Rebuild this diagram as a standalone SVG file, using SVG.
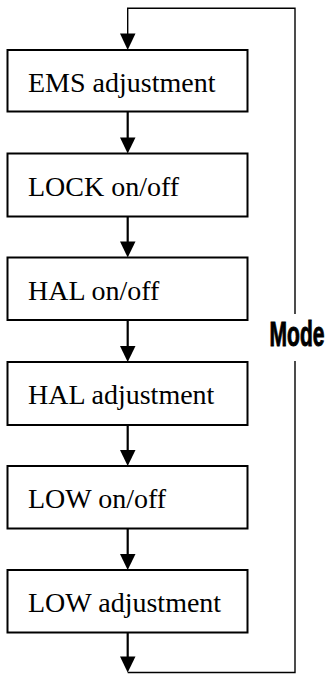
<svg xmlns="http://www.w3.org/2000/svg" width="329" height="674" viewBox="0 0 329 674">
<style>
.box{fill:#fff;stroke:#000;stroke-width:2}
.lbl{font-family:"Liberation Serif","Times New Roman",serif;font-size:28px;fill:#000}
.con{fill:none;stroke:#000;stroke-width:2.2}
.loop{fill:none;stroke:#000;stroke-width:1.4}
.head{fill:#000}
.mode{font-family:"Liberation Sans",Arial,sans-serif;font-weight:bold;font-size:36px;fill:#000;stroke:#000;stroke-width:1}
</style>
<rect width="329" height="674" fill="#fff"/>
<g id="connectors">
<path class="loop" d="M127.7,672.5 H295 V361 M295,314 V8.3 H127.7 V36"/>
<line class="con" x1="127.7" y1="111.5" x2="127.7" y2="140"/>
<line class="con" x1="127.7" y1="216.5" x2="127.7" y2="244"/>
<line class="con" x1="127.7" y1="320" x2="127.7" y2="348"/>
<line class="con" x1="127.7" y1="425" x2="127.7" y2="452"/>
<line class="con" x1="127.7" y1="528.5" x2="127.7" y2="556"/>
<line class="con" x1="127.7" y1="632.5" x2="127.7" y2="659"/>
<polygon class="head" points="120,33.5 135.5,33.5 127.7,50"/>
<polygon class="head" points="120,137.5 135.5,137.5 127.7,153.5"/>
<polygon class="head" points="120,241.5 135.5,241.5 127.7,257.5"/>
<polygon class="head" points="120,346 135.5,346 127.7,362"/>
<polygon class="head" points="120,450 135.5,450 127.7,466"/>
<polygon class="head" points="120,554 135.5,554 127.7,570"/>
<polygon class="head" points="120,656.5 135.5,656.5 127.7,672.5"/>
</g>
<g id="n1"><rect class="box" x="7.5" y="50" width="240" height="61.5"/><text class="lbl" x="28" y="92">EMS adjustment</text></g>
<g id="n2"><rect class="box" x="7.5" y="153.5" width="240" height="63"/><text class="lbl" x="28" y="196">LOCK on/off</text></g>
<g id="n3"><rect class="box" x="7.5" y="257.5" width="240" height="62.5"/><text class="lbl" x="28" y="300">HAL on/off</text></g>
<g id="n4"><rect class="box" x="7.5" y="362" width="240" height="63"/><text class="lbl" x="28" y="404">HAL adjustment</text></g>
<g id="n5"><rect class="box" x="7.5" y="466" width="240" height="62.5"/><text class="lbl" x="28" y="508">LOW on/off</text></g>
<g id="n6"><rect class="box" x="7.5" y="570" width="240" height="62.5"/><text class="lbl" x="28" y="612">LOW adjustment</text></g>
<g id="mode"><text class="mode" transform="translate(269.5,346) scale(0.585,1)" x="0" y="0">Mode</text></g>
</svg>
